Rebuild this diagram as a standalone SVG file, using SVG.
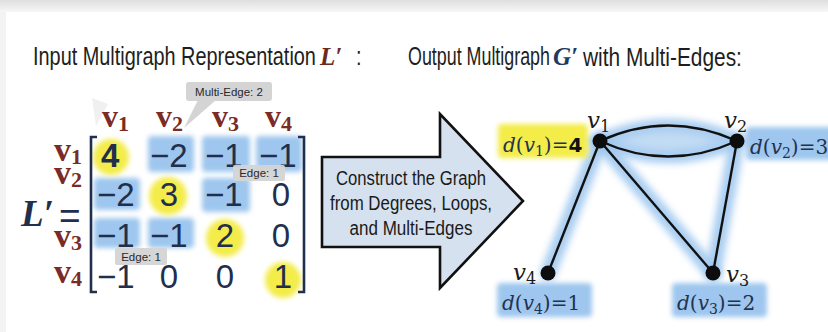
<svg xmlns="http://www.w3.org/2000/svg" width="828" height="332" viewBox="0 0 828 332">
<defs>
  <linearGradient id="topband" x1="0" y1="0" x2="0" y2="1">
    <stop offset="0" stop-color="#dedede"/>
    <stop offset="1" stop-color="#f7f7f7"/>
  </linearGradient>
  <filter id="soft" filterUnits="userSpaceOnUse" x="0" y="0" width="828" height="332">
    <feGaussianBlur stdDeviation="2.5"/>
  </filter>
  <filter id="glow" filterUnits="userSpaceOnUse" x="0" y="0" width="828" height="332">
    <feGaussianBlur stdDeviation="3.5"/>
  </filter>
  <style>
    .title{font-family:"Liberation Sans",Arial,sans-serif;font-size:25px;fill:#1e1e1e}
    .mathL{font-family:"Liberation Serif","DejaVu Serif",serif;font-style:italic;font-weight:bold}
    .num{font-family:"Liberation Sans",Arial,sans-serif;font-size:33px;fill:#1f2f4d}
    .lab{font-family:"Liberation Serif","DejaVu Serif",serif;font-weight:bold;font-size:34px;fill:#7a2b26}
    .hdr{font-size:32px}
    .sub{font-size:22px}
    .callout{fill:#d4d4d4}
    .ctext{font-family:"Liberation Sans",Arial,sans-serif;font-size:11.5px;fill:#2a2a2a}
    .hb{fill:#9ec6ee;filter:url(#soft)}
    .hy{fill:#f3ec4a;filter:url(#soft)}
    .arrowtxt{font-family:"Liberation Sans",Arial,sans-serif;font-size:20px;fill:#1a1a1a;text-anchor:middle}
    .edge{fill:none;stroke:#111;stroke-width:2.4}
    .glowline{fill:none;stroke:#9cc6ef;stroke-width:16;stroke-linecap:round;filter:url(#glow);opacity:0.85}
    .node{fill:#0d0d0d}
    .vlab{font-family:"DejaVu Serif","Liberation Serif",serif;font-style:italic;font-size:23px;fill:#1a1a1a}
    .deg{font-family:"DejaVu Serif","Liberation Serif",serif;font-size:20px;fill:#23324f}
    .it{font-style:italic}
  </style>
</defs>

<!-- background -->
<rect x="0" y="0" width="828" height="332" fill="#ffffff"/>
<rect x="0" y="0" width="828" height="12" fill="url(#topband)"/>
<rect x="0" y="12" width="6" height="320" fill="#f3f3f3"/>

<!-- titles -->
<g id="title-left">
  <text class="title" transform="translate(33,65) scale(0.7956,1)">Input Multigraph Representation</text>
  <text class="mathL" x="320" y="65" font-size="25" fill="#6b2a1f">L′</text>
  <text class="title" transform="translate(356,65) scale(0.8,1)">:</text>
</g>
<g id="title-right">
  <text class="title" transform="translate(408,65) scale(0.7146,1)">Output Multigraph</text>
  <text class="mathL" x="553" y="65" font-size="25" fill="#1f3a5f">G′</text>
  <text class="title" transform="translate(583,66) scale(0.8355,1)">with Multi-Edges:</text>
</g>

<!-- matrix -->
<g id="matrix">
  <!-- highlights -->
  <rect class="hb" x="148" y="136" width="46" height="36" rx="4"/>
  <rect class="hb" x="202" y="136" width="48" height="36" rx="4"/>
  <rect class="hb" x="256" y="136" width="46" height="36" rx="4"/>
  <rect class="hb" x="94" y="178" width="46" height="32" rx="4"/>
  <rect class="hb" x="202" y="178" width="48" height="34" rx="4"/>
  <rect class="hb" x="94" y="218" width="46" height="30" rx="4"/>
  <rect class="hb" x="148" y="218" width="46" height="30" rx="4"/>
  <circle class="hy" cx="111" cy="157" r="18"/>
  <circle class="hy" cx="168" cy="196" r="19"/>
  <circle class="hy" cx="225" cy="238" r="19"/>
  <circle class="hy" cx="283" cy="280" r="18"/>

  <!-- faint pointer artifact -->
  <polygon points="92,98 108,104 96,126" fill="#ececec" opacity="0.8"/>

  <!-- column headers -->
  <text class="lab hdr" x="102" y="127">v<tspan class="sub" dy="4">1</tspan></text>
  <text class="lab hdr" x="156" y="127">v<tspan class="sub" dy="4">2</tspan></text>
  <text class="lab hdr" x="212" y="127">v<tspan class="sub" dy="4">3</tspan></text>
  <text class="lab hdr" x="265" y="127">v<tspan class="sub" dy="4">4</tspan></text>

  <!-- row labels -->
  <text class="lab" x="54" y="161">v<tspan class="sub" dy="3">1</tspan></text>
  <text class="lab" x="54" y="184">v<tspan class="sub" dy="3">2</tspan></text>
  <text class="lab" x="54" y="247">v<tspan class="sub" dy="3">3</tspan></text>
  <text class="lab" x="54" y="283">v<tspan class="sub" dy="3">4</tspan></text>

  <!-- L' = -->
  <text class="mathL" x="21" y="226" font-size="37" fill="#1f2f4d">L′</text>
  <text x="59" y="228" font-family="Liberation Sans, Arial, sans-serif" font-size="37" fill="#1f2f4d">=</text>

  <!-- brackets -->
  <path d="M97,137 H91 V292 H97" fill="none" stroke="#1f2f4d" stroke-width="2.6"/>
  <path d="M298,137 H304 V292 H298" fill="none" stroke="#1f2f4d" stroke-width="2.6"/>

  <!-- entries -->
  <text class="num" x="101" y="167" font-family="DejaVu Sans, sans-serif" font-weight="bold" font-size="30" fill="#111">4</text>
  <text class="num" x="150" y="167">−2</text>
  <text class="num" x="205" y="167">−1</text>
  <text class="num" x="259" y="167">−1</text>

  <text class="num" x="97" y="206">−2</text>
  <text class="num" x="169" y="206" text-anchor="middle">3</text>
  <text class="num" x="205" y="206">−1</text>
  <text class="num" x="281" y="206" text-anchor="middle">0</text>

  <text class="num" x="97" y="247">−1</text>
  <text class="num" x="150" y="247">−1</text>
  <text class="num" x="225" y="247" text-anchor="middle">2</text>
  <text class="num" x="281" y="247" text-anchor="middle">0</text>

  <text class="num" x="97" y="288">−1</text>
  <text class="num" x="169" y="288" text-anchor="middle">0</text>
  <text class="num" x="225" y="288" text-anchor="middle">0</text>
  <text class="num" x="283" y="288" text-anchor="middle">1</text>

  <!-- callouts -->
  <g id="callout-multi">
    <polygon class="callout" points="198,100 216,100 184,128"/>
    <rect class="callout" x="186" y="82" width="86" height="19" rx="3"/>
    <text class="ctext" x="229" y="96" text-anchor="middle" font-size="12">Multi-Edge: 2</text>
  </g>
  <g id="callout-edge1">
    <rect class="callout" x="233" y="165" width="52" height="16" rx="2" opacity="0.95"/>
    <text class="ctext" x="259" y="177" text-anchor="middle">Edge: 1</text>
  </g>
  <g id="callout-edge2">
    <rect class="callout" x="115" y="248" width="52" height="17" rx="2" opacity="0.95"/>
    <text class="ctext" x="141" y="261" text-anchor="middle">Edge: 1</text>
  </g>
</g>

<!-- big arrow -->
<g id="arrow">
  <polygon points="322,157 440,157 440,114 523,201 440,288 440,247 322,247" fill="#d5e1ee" stroke="#111" stroke-width="2.6" stroke-linejoin="miter"/>
  <text class="arrowtxt" x="411" y="185" textLength="150" lengthAdjust="spacingAndGlyphs">Construct the Graph</text>
  <text class="arrowtxt" x="411" y="210" textLength="162" lengthAdjust="spacingAndGlyphs">from Degrees, Loops,</text>
  <text class="arrowtxt" x="411" y="235" textLength="123" lengthAdjust="spacingAndGlyphs">and Multi-Edges</text>
</g>

<!-- graph highlights (behind) -->
<g id="graph-glow">
  <path d="M600,141 Q668,110 737,141 Q668,172 600,141 Z" fill="#b8d6f3" stroke="#9cc6ef" stroke-width="14" filter="url(#glow)" opacity="0.85"/>
  <path class="glowline" d="M600,141 L548,273"/>
  <path class="glowline" d="M600,141 L713,273"/>
  <path class="glowline" d="M737,141 L713,273"/>
  <rect class="hy" x="498" y="124" width="90" height="34" rx="4"/>
  <rect class="hb" x="746" y="127" width="90" height="33" rx="4"/>
  <rect class="hb" x="497" y="283" width="95" height="34" rx="4"/>
  <rect class="hb" x="672" y="283" width="95" height="34" rx="4"/>
</g>

<!-- connectors -->
<g id="connectors">
  <path class="edge" d="M600,141 Q668,110 737,141"/>
  <path class="edge" d="M600,141 Q668,172 737,141"/>
  <path class="edge" d="M600,141 L548,273"/>
  <path class="edge" d="M600,141 L713,273"/>
  <path class="edge" d="M737,141 L713,273"/>
</g>

<!-- nodes -->
<g id="node-v1">
  <circle class="node" cx="600" cy="141" r="7.5"/>
  <text class="vlab" x="587" y="128">v<tspan font-size="16" font-style="normal" dy="4">1</tspan></text>
  <text class="deg" x="503" y="152"><tspan class="it">d</tspan>(<tspan class="it">v</tspan><tspan font-size="14" dy="4">1</tspan><tspan dy="-4">)=</tspan><tspan font-family="DejaVu Sans, sans-serif" font-weight="bold" fill="#111">4</tspan></text>
</g>
<g id="node-v2">
  <circle class="node" cx="737" cy="141" r="7.5"/>
  <text class="vlab" x="724" y="128">v<tspan font-size="16" font-style="normal" dy="4">2</tspan></text>
  <text class="deg" x="750" y="154"><tspan class="it">d</tspan>(<tspan class="it">v</tspan><tspan font-size="14" dy="4">2</tspan><tspan dy="-4">)=3</tspan></text>
</g>
<g id="node-v3">
  <circle class="node" cx="713" cy="273" r="7.5"/>
  <text class="vlab" x="726" y="282">v<tspan font-size="16" font-style="normal" dy="4">3</tspan></text>
  <text class="deg" x="677" y="310"><tspan class="it">d</tspan>(<tspan class="it">v</tspan><tspan font-size="14" dy="4">3</tspan><tspan dy="-4">)=2</tspan></text>
</g>
<g id="node-v4">
  <circle class="node" cx="548" cy="273" r="7.5"/>
  <text class="vlab" x="513" y="280">v<tspan font-size="16" font-style="normal" dy="4">4</tspan></text>
  <text class="deg" x="502" y="310"><tspan class="it">d</tspan>(<tspan class="it">v</tspan><tspan font-size="14" dy="4">4</tspan><tspan dy="-4">)=1</tspan></text>
</g>
</svg>
